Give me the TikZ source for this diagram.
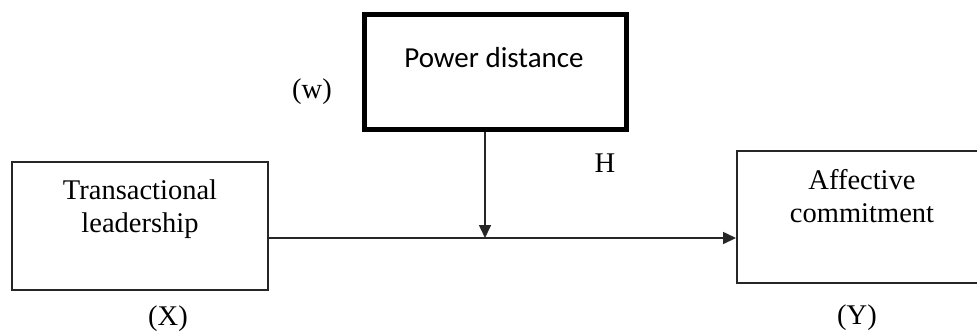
\documentclass[tikz,border=0pt]{standalone}
\usepackage{fontspec}
\setmainfont{Liberation Serif}
\newfontfamily\calib{Carlito}
\usetikzlibrary{arrows.meta}
\begin{document}
\begin{tikzpicture}[x=1pt,y=-1pt,
  thinbox/.style={draw=black!85, line width=2pt, minimum width=#1, inner sep=0pt},
  lbl/.style={font=\fontsize{28.5}{33}\selectfont, align=center, inner sep=0pt},
  conn/.style={draw=black!85, line width=1.6pt},
  tip/.style={-{Triangle[length=13pt,width=12pt]}}]
\clip (0,0) rectangle (977,335);
\fill[white] (0,0) rectangle (977,335);
\node[thinbox=256pt, minimum height=128pt] (L) at (140,226) {};
\node[thinbox=250pt, minimum height=132pt] (R) at (862,217) {};
\node[draw=black, line width=5pt, minimum width=262pt, minimum height=115pt, inner sep=0pt] (P) at (495,71.5) {};
\node[lbl] (Lt) at (140,209) {Transactional\\leadership};
\node[lbl] (Rt) at (862,196) {Affective\\commitment};
\node[lbl, font=\calib\fontsize{29}{30}\selectfont] (Pt) at (494,58) {Power distance};
\node[lbl] (w) at (312,92) {(w)};
\node[lbl] (H) at (605,163) {H};
\node[lbl] (X) at (168,319) {(X)};
\node[lbl] (Y) at (857,318) {(Y)};
\coordinate (j) at (485,238);
\draw[conn, tip] (L.east |- j) -- (R.west |- j);
\draw[conn, tip] (P.south -| j) -- (j);
\end{tikzpicture}
\end{document}
